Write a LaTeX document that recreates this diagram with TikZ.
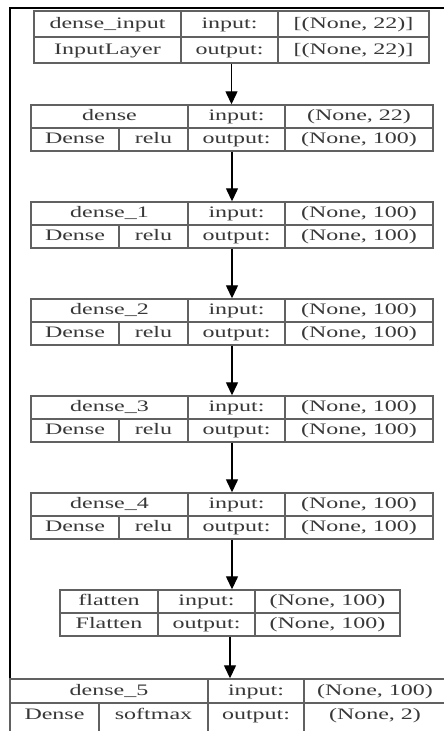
\documentclass[tikz,border=0pt]{standalone}
\usepackage{fontspec}
\setmainfont{Liberation Serif}
\usetikzlibrary{arrows.meta,fit}
\tikzset{
  box/.style={draw=black!62, line width=1.4pt, inner sep=0pt},
  grid/.style={draw=black!62, line width=1.4pt},
  txt/.style={inner sep=0pt, text=black!78, text height=11pt, text depth=3pt,
              font=\fontsize{16}{18}\selectfont},
  flow/.style={-{Triangle[width=12pt,length=13pt]}, line width=1.3pt, black},
  frame/.style={line width=1.6pt, black},
}
% widened text, as in the layer tables
\newcommand\tx[1]{\scalebox{1.5}[1]{#1}}
% \cell{name}{x1}{x2}{y1}{y2}{text}
\newcommand\cell[6]{\node[txt] (#1) at ({(#2+#3)/2},{(#4+#5)/2}) {\tx{#6}};}
% standard Dense layer table: \dlayer{id}{top}{mid}{bot}{layer name}{activation}{in shape}{out shape}
\newcommand\dlayer[8]{%
  \node[box, fit={(31,#2) (433,#4)}] (#1) {};
  \draw[grid] (31,#3) -- (433,#3);
  \draw[grid] (188,#2) -- (188,#4);
  \draw[grid] (285,#2) -- (285,#4);
  \draw[grid] (119,#3) -- (119,#4);
  \cell{#1n}{31}{188}{#2}{#3}{#5}
  \cell{#1i}{188}{285}{#2}{#3}{input:}
  \cell{#1is}{285}{433}{#2}{#3}{#7}
  \cell{#1c}{31}{119}{#3}{#4}{Dense}
  \cell{#1a}{119}{188}{#3}{#4}{#6}
  \cell{#1o}{188}{285}{#3}{#4}{output:}
  \cell{#1os}{285}{433}{#3}{#4}{#8}
}
\begin{document}
\begin{tikzpicture}[x=1pt,y=-1pt]
\useasboundingbox (0,0) rectangle (444,731);
\clip (0,0) rectangle (444,731);
\fill[white] (0,0) rectangle (444,731);

% outer frame (left and top edges)
\draw[frame] (10,745) -- (10,8) -- (450,8);

% input layer
\node[box, fit={(34,11) (429,63)}] (inp) {};
\draw[grid] (34,37) -- (429,37);
\draw[grid] (181,11) -- (181,63);
\draw[grid] (278,11) -- (278,63);
\cell{inpn}{34}{181}{11}{37}{dense\_input}
\cell{inpi}{181}{278}{11}{37}{input:}
\cell{inpis}{278}{429}{11}{37}{[(None, 22)]}
\cell{inpc}{34}{181}{37}{63}{InputLayer}
\cell{inpo}{181}{278}{37}{63}{output:}
\cell{inpos}{278}{429}{37}{63}{[(None, 22)]}

% dense layers
\dlayer{d0}{105}{128}{151}{dense}{relu}{(None, 22)}{(None, 100)}
\dlayer{d1}{202}{225}{248}{dense\_1}{relu}{(None, 100)}{(None, 100)}
\dlayer{d2}{299}{322}{345}{dense\_2}{relu}{(None, 100)}{(None, 100)}
\dlayer{d3}{396}{419}{442}{dense\_3}{relu}{(None, 100)}{(None, 100)}
\dlayer{d4}{493}{516}{539}{dense\_4}{relu}{(None, 100)}{(None, 100)}

% flatten layer
\node[box, fit={(60,590) (400,636)}] (fl) {};
\draw[grid] (60,613) -- (400,613);
\draw[grid] (158,590) -- (158,636);
\draw[grid] (255,590) -- (255,636);
\cell{fln}{60}{158}{590}{613}{flatten}
\cell{fli}{158}{255}{590}{613}{input:}
\cell{flis}{255}{400}{590}{613}{(None, 100)}
\cell{flc}{60}{158}{613}{636}{Flatten}
\cell{flo}{158}{255}{613}{636}{output:}
\cell{flos}{255}{400}{613}{636}{(None, 100)}

% output layer
\node[box, fit={(10,679) (446,735)}] (d5) {};
\draw[grid] (10,703) -- (446,703);
\draw[grid] (208,679) -- (208,735);
\draw[grid] (304,679) -- (304,735);
\draw[grid] (99,703) -- (99,735);
\cell{d5n}{10}{208}{679}{703}{dense\_5}
\cell{d5i}{208}{304}{679}{703}{input:}
\cell{d5is}{304}{446}{679}{703}{(None, 100)}
\cell{d5c}{10}{99}{703}{727}{Dense}
\cell{d5a}{99}{208}{703}{727}{softmax}
\cell{d5o}{208}{304}{703}{727}{output:}
\cell{d5os}{304}{446}{703}{727}{(None, 2)}

% connectors
\draw[flow] (inp.south) -- (inp.south |- d0.north);
\draw[flow] (d0.south) -- (d0.south |- d1.north);
\draw[flow] (d1.south) -- (d1.south |- d2.north);
\draw[flow] (d2.south) -- (d2.south |- d3.north);
\draw[flow] (d3.south) -- (d3.south |- d4.north);
\draw[flow] (d4.south) -- (d4.south |- fl.north);
\draw[flow] (fl.south) -- (fl.south |- d5.north);
\end{tikzpicture}
\end{document}
